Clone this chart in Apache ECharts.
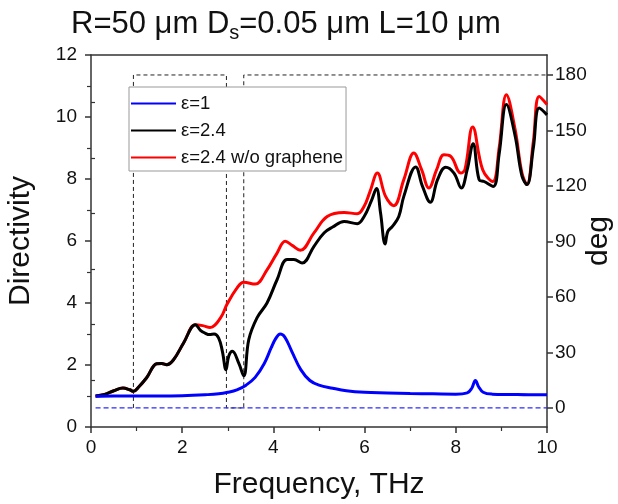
<!DOCTYPE html>
<html>
<head>
<meta charset="utf-8">
<script src="https://cdn.jsdelivr.net/npm/echarts@6/dist/echarts.min.js"></script>
<style>html,body{margin:0;padding:0;background:#fff;}#c{width:618px;height:504px;}</style>
</head>
<body>
<div id="c"></div>
<script>
// ---- data ----
const seriesNames = ['ε=1', 'ε=2.4', 'ε=2.4 w/o graphene'];

const freqEps1 = [0.1,0.5,1,1.5,2,2.5,2.8,3.0,3.2,3.4,3.6,3.8,3.95,4.05,4.15,4.25,4.4,4.6,4.8,5.0,5.3,5.6,6.0,6.5,7.0,7.5,8.0,8.25,8.35,8.43,8.5,8.6,8.8,9.2,9.6,10];
const dirEps1  = [0.99,1.0,1.0,1.0,1.01,1.04,1.07,1.12,1.2,1.35,1.6,2.05,2.55,2.85,3.0,2.9,2.45,1.85,1.5,1.35,1.25,1.17,1.12,1.1,1.08,1.07,1.06,1.1,1.25,1.5,1.3,1.12,1.06,1.05,1.04,1.04];

const freqEps24 = [0.1,0.3,0.5,0.7,0.85,0.93,1.05,1.22,1.44,1.55,1.66,1.81,2.03,2.29,2.4,2.5,2.6,2.7,2.8,2.88,2.96,3.02,3.1,3.24,3.35,3.46,3.64,3.86,4.08,4.3,4.45,4.63,4.89,5.11,5.3,5.55,5.84,5.99,6.15,6.26,6.35,6.45,6.51,6.61,6.75,6.86,7.12,7.27,7.44,7.6,7.78,7.96,8.12,8.25,8.38,8.51,8.62,8.82,8.95,9.11,9.3,9.45,9.56,9.7,9.83,10];
const dirEps24  = [1.0,1.05,1.17,1.26,1.2,1.15,1.3,1.59,2.04,2.05,2.01,2.17,2.71,3.3,3.12,3.03,2.98,3.0,2.87,2.45,1.85,2.28,2.44,2.06,1.65,2.82,3.52,4.0,4.75,5.4,5.4,5.29,5.83,6.26,6.45,6.63,6.56,6.79,7.3,7.69,6.9,5.9,6.31,6.47,6.79,7.44,8.39,7.76,7.25,7.98,8.38,8.19,7.71,8.3,9.14,7.98,7.92,7.76,8.8,10.4,9.4,8.1,7.82,9.0,10.29,10.07];

const freqNoGr = [0.1,0.3,0.5,0.7,0.85,0.93,1.05,1.22,1.44,1.55,1.66,1.81,2.03,2.29,2.45,2.61,2.84,2.98,3.2,3.35,3.6,3.86,4.08,4.26,4.42,4.59,4.89,5.18,5.55,5.84,5.99,6.12,6.28,6.46,6.64,6.86,7.08,7.25,7.41,7.58,7.74,7.89,8.11,8.2,8.37,8.59,8.81,8.95,9.11,9.3,9.45,9.56,9.7,9.83,10];
const dirNoGr  = [1.0,1.05,1.17,1.26,1.2,1.15,1.3,1.59,2.04,2.05,2.01,2.17,2.71,3.3,3.27,3.21,3.52,3.95,4.48,4.67,4.61,5.07,5.61,5.99,5.85,5.7,6.26,6.79,6.92,6.88,7.12,7.6,8.19,7.44,7.14,7.98,8.84,8.3,7.71,8.3,8.78,8.73,8.19,8.3,9.68,8.3,7.92,9.0,10.72,9.6,8.2,7.82,9.2,10.66,10.4];

// phase (deg), right axis
const phaseFreqEps24 = [0.93,0.93,2.97,2.97,3.35,3.35,10];
const phaseEps24     = [0,180,180,0,0,180,180];
const phaseFreqEps1  = [0.1,10];
const phaseEps1      = [0,0];

// tick labels
const xTicks = [0,2,4,6,8,10];
const yLeftTicks = [0,2,4,6,8,10,12];
const yRightTicks = [0,30,60,90,120,150,180];
const yRightMinor = [15,45,75,105,135,165];

const zip = (a,b) => a.map((v,i)=>[v,b[i]]);

const chart = echarts.init(document.getElementById('c'), null, {renderer:'canvas'});
const font = 'Liberation Sans, Arial, sans-serif';
const axisColor = '#333';

const option = {
  animation: false,
  backgroundColor: '#fff',
  textStyle: {fontFamily: font},
  title: {
    text: '{n|R=50 μm D}{s|s}{n|=0.05 μm L=10 μm}',
    left: 66, top: 0,
    textStyle: {
      rich: {
        n: {fontSize: 31, fontWeight: 'normal', lineHeight: 38, verticalAlign: 'middle', color: '#111', fontFamily: font},
        s: {fontSize: 20, fontWeight: 'normal', lineHeight: 20, verticalAlign: 'bottom', color: '#111', fontFamily: font}
      }
    }
  },
  grid: {left: 91, right: 71, top: 55, bottom: 77, containLabel: false, outerBoundsMode: 'none'},
  legend: {
    data: seriesNames,
    orient: 'vertical',
    left: 129, top: 87,
    itemWidth: 45, itemHeight: 18, itemGap: 8, itemTextGap: 5,
    padding: [7, 3, 4, 1],
    borderColor: '#999', borderWidth: 1,
    backgroundColor: '#fff',
    itemStyle: {opacity: 0},
    textStyle: {fontSize: 18.5, color: '#111', fontFamily: font}
  },
  xAxis: [
    {
      type: 'value', min: 0, max: 10, interval: 2, position: 'bottom',
      name: 'Frequency, THz', nameLocation: 'middle', nameGap: 43, nameMoveOverlap: false,
      nameTextStyle: {fontSize: 30, color: '#111', fontFamily: font},
      axisLine: {show: true, onZero: false, lineStyle: {color: axisColor, width: 1.5}},
      axisTick: {show: true, inside: false, length: 6, lineStyle: {color: axisColor, width: 1.5}},
      minorTick: {show: true, splitNumber: 2, length: 4, lineStyle: {color: axisColor, width: 1.2}},
      axisLabel: {fontSize: 19, color: '#111', margin: 11, fontFamily: font,
        customValues: xTicks},
      splitLine: {show: false}
    },
    {
      type: 'value', min: 0, max: 10, position: 'top',
      axisLine: {show: true, onZero: false, lineStyle: {color: axisColor, width: 1.5}},
      axisTick: {show: false}, axisLabel: {show: false}, splitLine: {show: false}
    }
  ],
  yAxis: [
    {
      type: 'value', min: 0, max: 12, interval: 2, position: 'left',
      name: 'Directivity', nameLocation: 'middle', nameGap: 55, nameRotate: 90, nameMoveOverlap: false,
      nameTextStyle: {fontSize: 30, color: '#111', fontFamily: font},
      axisLine: {show: true, onZero: false, lineStyle: {color: axisColor, width: 1.5}},
      axisTick: {show: true, length: 6, lineStyle: {color: axisColor, width: 1.5}},
      minorTick: {show: true, splitNumber: 2, length: 4, lineStyle: {color: axisColor, width: 1.2}},
      axisLabel: {fontSize: 19, color: '#111', margin: 14, fontFamily: font, customValues: yLeftTicks},
      splitLine: {show: false}
    },
    {
      type: 'value', min: -10.3, max: 190.8, position: 'right',
      name: 'deg', nameLocation: 'middle', nameGap: 37, nameRotate: 90, nameMoveOverlap: false,
      nameTextStyle: {fontSize: 30, color: '#111', fontFamily: font},
      axisLine: {show: true, onZero: false, lineStyle: {color: axisColor, width: 1.5}},
      axisTick: {show: true, length: 6, customValues: yRightTicks, lineStyle: {color: axisColor, width: 1.5}},
      axisLabel: {fontSize: 19, color: '#111', margin: 8, fontFamily: font, customValues: yRightTicks},
      splitLine: {show: false}
    },
    {
      type: 'value', min: -10.3, max: 190.8, position: 'right',
      axisLine: {show: false},
      axisTick: {show: true, length: 4, customValues: yRightMinor, lineStyle: {color: axisColor, width: 1.2}},
      axisLabel: {show: false},
      splitLine: {show: false}
    }
  ],
  series: [
    {
      name: 'phaseEps24', type: 'line', yAxisIndex: 1, data: zip(phaseFreqEps24, phaseEps24),
      symbol: 'none', silent: true, z: 1,
      lineStyle: {color: '#222', width: 1, type: [4, 3]}
    },
    {
      name: 'phaseEps1', type: 'line', yAxisIndex: 1, data: zip(phaseFreqEps1, phaseEps1),
      symbol: 'none', silent: true, z: 2,
      lineStyle: {color: '#2a2aff', width: 1.2, type: [5, 3]}
    },
    {
      name: seriesNames[2], type: 'line', data: zip(freqNoGr, dirNoGr),
      symbol: 'none', smooth: 0.4, z: 3,
      lineStyle: {color: '#ff0000', width: 3}, itemStyle: {color: '#ff0000'}
    },
    {
      name: seriesNames[1], type: 'line', data: zip(freqEps24, dirEps24),
      symbol: 'none', smooth: 0.4, z: 4,
      lineStyle: {color: '#000000', width: 3}, itemStyle: {color: '#000000'}
    },
    {
      name: seriesNames[0], type: 'line', data: zip(freqEps1, dirEps1),
      symbol: 'none', smooth: 0.4, z: 5,
      lineStyle: {color: '#0000ff', width: 3}, itemStyle: {color: '#0000ff'}
    }
  ]
};
chart.setOption(option);
</script>
</body>
</html>
